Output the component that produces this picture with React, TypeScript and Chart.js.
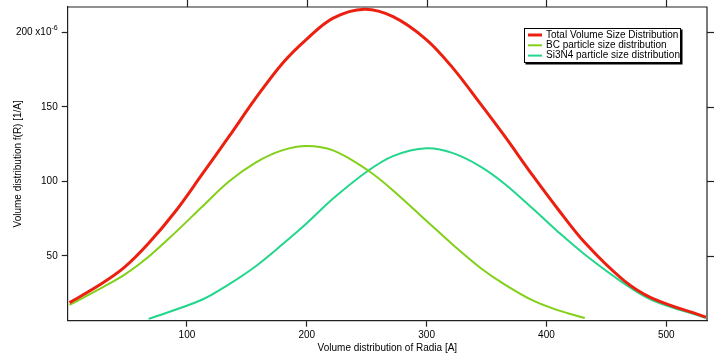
import React, { useEffect, useRef } from "react";
import { Chart, registerables } from "chart.js";

Chart.register(...registerables);

// ---- Data ----
const radiusTotal = [2, 28, 48, 68, 90, 112, 135, 158, 180, 200, 222, 248, 272, 300, 322, 345, 365, 389, 410, 432, 464, 488, 533];
const totalValues = [18.7, 31, 42.5, 58.5, 79.5, 104, 130, 156.5, 179.5, 195.5, 209.5, 215.5, 210.5, 195, 176, 152, 130.5, 103.5, 81, 59, 34, 21.8, 9];

const radiusBC = [2, 28, 48, 68, 90, 112, 135, 158, 180, 200, 222, 250, 272, 300, 322, 345, 365, 389, 410, 432];
const bcValues = [17.2, 28.3, 37.5, 49.5, 65.5, 82.5, 100, 113, 121, 123.8, 120.8, 108, 94, 73.5, 57.5, 42, 31, 20, 13.5, 8.4];

const radiusSi = [68, 112, 135, 158, 180, 200, 222, 250, 272, 300, 322, 345, 365, 389, 410, 432, 464, 488, 533];
const siValues = [7.8, 20.5, 31, 43.5, 58, 72, 88.5, 106.5, 117, 122.2, 119, 110, 98.5, 81.5, 66, 51, 32, 20.5, 8.4];

const seriesLabels = [
  "Total Volume Size Distribution",
  "BC particle size distribution",
  "Si3N4 particle size distribution",
];
const seriesColors = ["rgb(236,32,16)", "rgb(130,208,24)", "rgb(34,214,140)"];
const seriesWidths = [3, 2, 2];

const xTitle = "Volume distribution of Radia [A]";
const yTitle = "Volume distribution f(R) [1/A]";
const yExpTick = 200;
const yExpBase = "200 x10";
const yExpSup = "-6";
const xMin = 0.5;
const xMax = 534;
const yMin = 6.6;
const yMax = 217;

const FONT = "'Liberation Sans', Arial, Helvetica, sans-serif";

const toPoints = (xs: number[], ys: number[]) => xs.map((x, i) => ({ x, y: ys[i] }));

const framePlugin = {
  id: "frameMirror",
  afterDraw(chart: any) {
    const { ctx, chartArea } = chart;
    const { left, right, top, bottom } = chartArea;
    ctx.save();
    ctx.strokeStyle = "#222";
    ctx.lineWidth = 1.2;
    ctx.beginPath();
    ctx.moveTo(left, top);
    ctx.lineTo(right, top);
    ctx.lineTo(right, bottom);
    ctx.stroke();
    const xs = chart.scales.x;
    xs.ticks.forEach((t: any) => {
      const px = Math.round(xs.getPixelForValue(t.value)) + 0.5;
      ctx.beginPath();
      ctx.moveTo(px, top);
      ctx.lineTo(px, top - 7);
      ctx.stroke();
    });
    const ys = chart.scales.y;
    ys.ticks.forEach((t: any) => {
      const py = Math.round(ys.getPixelForValue(t.value)) + 0.5;
      ctx.beginPath();
      ctx.moveTo(right, py);
      ctx.lineTo(right + 7, py);
      ctx.stroke();
    });
    const py = ys.getPixelForValue(yExpTick);
    const rightEdge = ys.right - 6 - 4;
    ctx.fillStyle = "#000";
    ctx.textBaseline = "middle";
    ctx.textAlign = "right";
    ctx.font = `7px ${FONT}`;
    const supW = ctx.measureText(yExpSup).width;
    ctx.fillText(yExpSup, rightEdge, py - 4);
    ctx.font = `10px ${FONT}`;
    ctx.fillText(yExpBase, rightEdge - supW, py);
    ctx.restore();
  },
};

const legendPlugin = {
  id: "boxLegend",
  afterDraw(chart: any) {
    const { ctx, chartArea } = chart;
    const x0 = chartArea.right - 183;
    const y0 = chartArea.top + 21;
    const w = 157;
    const h = 35;
    ctx.save();
    ctx.fillStyle = "#000";
    ctx.fillRect(x0 + 1.5, y0 + 1.5, w, h);
    ctx.fillStyle = "#fff";
    ctx.fillRect(x0, y0, w, h);
    ctx.strokeStyle = "#000";
    ctx.lineWidth = 1;
    ctx.strokeRect(x0 + 0.5, y0 + 0.5, w - 1, h - 1);
    ctx.font = `10px ${FONT}`;
    ctx.textBaseline = "middle";
    ctx.textAlign = "left";
    seriesLabels.forEach((lab, i) => {
      const yy = y0 + 7 + i * 10.3;
      ctx.strokeStyle = seriesColors[i];
      ctx.lineWidth = seriesWidths[i];
      ctx.beginPath();
      ctx.moveTo(x0 + 4, yy);
      ctx.lineTo(x0 + 18, yy);
      ctx.stroke();
      ctx.fillStyle = "#000";
      ctx.fillText(lab, x0 + 22, yy);
    });
    ctx.restore();
  },
};

export default function App() {
  const ref = useRef<HTMLCanvasElement | null>(null);

  useEffect(() => {
    document.body.style.margin = "0";
    const canvas = ref.current;
    if (!canvas) return;
    const chart = new Chart(canvas, {
      type: "line",
      data: {
        datasets: [
          { label: seriesLabels[0], data: toPoints(radiusTotal, totalValues) },
          { label: seriesLabels[1], data: toPoints(radiusBC, bcValues) },
          { label: seriesLabels[2], data: toPoints(radiusSi, siValues) },
        ].map((d, i) => ({
          ...d,
          borderColor: seriesColors[i],
          backgroundColor: seriesColors[i],
          borderWidth: seriesWidths[i],
          pointRadius: 0,
          tension: 0.35,
          fill: false,
        })),
      },
      options: {
        animation: false,
        responsive: false,
        devicePixelRatio: 1,
        layout: { padding: { top: 7, right: 12, left: 0, bottom: 0 } },
        plugins: {
          legend: { display: false },
          tooltip: { enabled: false },
        },
        scales: {
          x: {
            type: "linear",
            min: xMin,
            max: xMax,
            afterFit: (s: any) => {
              s.height = 33.3;
              s.paddingLeft = 0;
              s.paddingRight = 0;
            },
            grid: {
              drawOnChartArea: false,
              drawTicks: true,
              tickLength: 6,
              tickColor: "#222",
              tickWidth: 1.2,
            },
            border: { display: true, color: "#222", width: 1.2 },
            ticks: {
              stepSize: 100,
              includeBounds: false,
              color: "#000",
              padding: 3,
              maxRotation: 0,
              font: { family: FONT, size: 10 },
            },
            title: {
              display: true,
              text: xTitle,
              color: "#000",
              font: { family: FONT, size: 10, lineHeight: 1 },
              padding: { top: 0, bottom: 1 },
            },
          },
          y: {
            type: "linear",
            min: yMin,
            max: yMax,
            afterFit: (s: any) => {
              s.width = 67.7;
              s.paddingTop = 0;
              s.paddingBottom = 0;
            },
            grid: {
              drawOnChartArea: false,
              drawTicks: true,
              tickLength: 6,
              tickColor: "#222",
              tickWidth: 1.2,
            },
            border: { display: true, color: "#222", width: 1.2 },
            ticks: {
              stepSize: 50,
              includeBounds: false,
              color: "#000",
              padding: 4,
              font: { family: FONT, size: 10 },
              callback: (v: any) => (v === yExpTick ? "" : String(v)),
            },
            title: {
              display: true,
              text: yTitle,
              color: "#000",
              font: { family: FONT, size: 10, lineHeight: 1 },
              padding: { top: 13, bottom: 0 },
            },
          },
        },
      },
      plugins: [framePlugin, legendPlugin],
    } as any);
    return () => chart.destroy();
  }, []);

  return (
    <div style={{ position: "absolute", left: 0, top: 0, width: 719, height: 354, background: "#fff" }}>
      <canvas ref={ref} width={719} height={354} style={{ width: 719, height: 354, display: "block" }} />
    </div>
  );
}
